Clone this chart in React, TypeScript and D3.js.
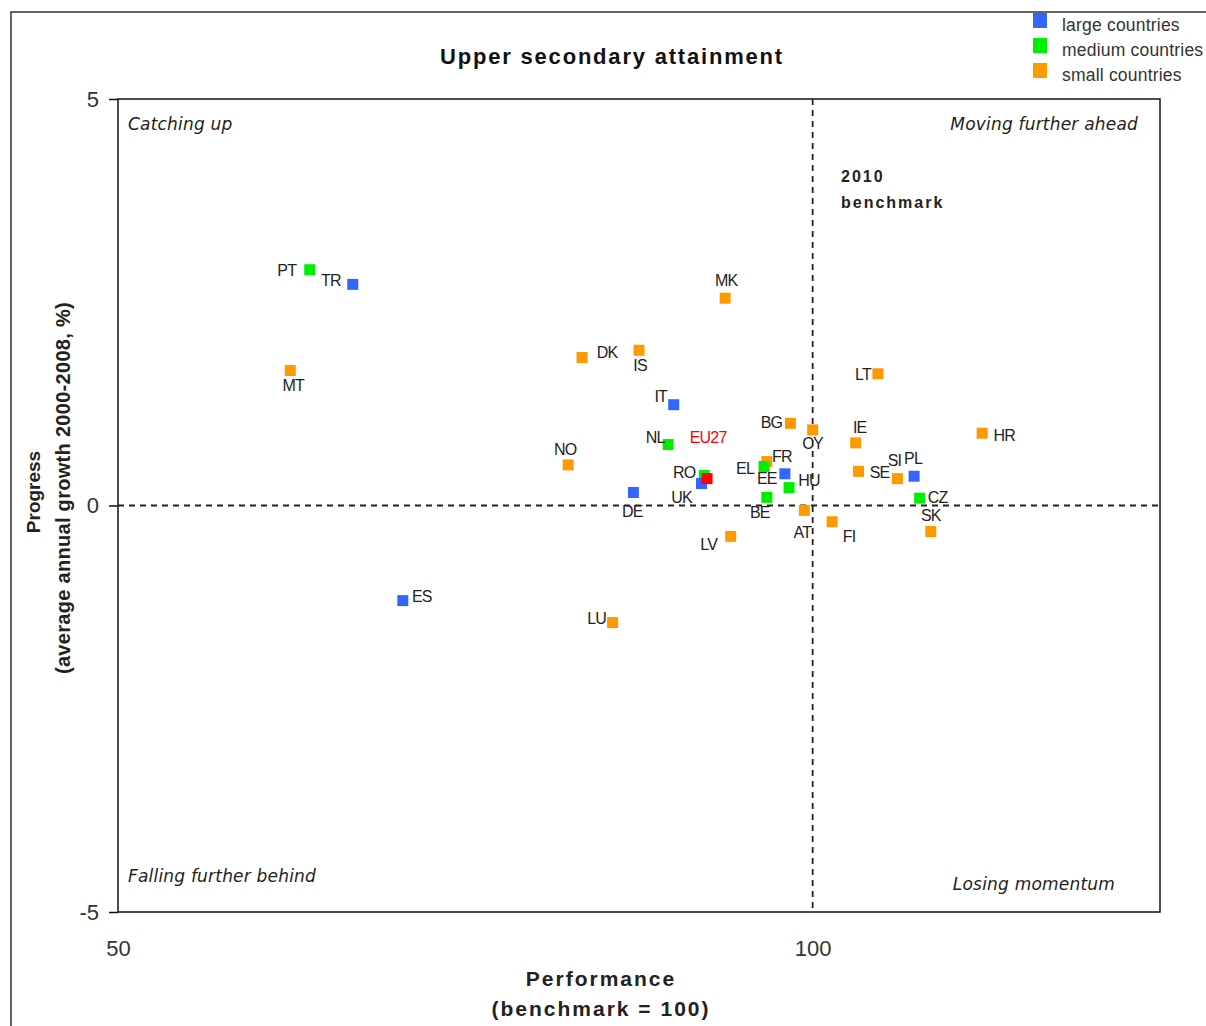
import React, { useEffect, useRef } from "react";
import * as d3 from "d3";

// country codes, group (L = large, M = medium, S = small, EU = EU average)
const countries = ["PT", "TR", "MT", "ES", "NO", "DK", "IS", "LU", "DE", "IT", "NL", "MK", "RO", "UK", "LV", "EE", "EL", "FR", "BE", "HU", "BG", "CY", "AT", "FI", "LT", "IE", "SE", "SI", "PL", "CZ", "SK", "HR", "EU27"];
const groups = ["M", "L", "S", "L", "S", "S", "S", "S", "L", "L", "M", "S", "M", "L", "S", "S", "M", "L", "M", "M", "S", "S", "S", "S", "S", "S", "S", "S", "L", "M", "S", "S", "EU"];
// performance (benchmark = 100)
const performance = [63.8, 66.9, 62.4, 70.5, 82.4, 83.4, 87.5, 85.6, 87.1, 90.0, 89.6, 93.7, 92.2, 92.0, 94.1, 96.7, 96.5, 98.0, 96.7, 98.3, 98.4, 100.0, 99.4, 101.4, 104.7, 103.1, 103.3, 106.1, 107.3, 107.7, 108.5, 112.2, 92.4];
// progress (average annual growth 2000-2008, %)
const progress = [2.9, 2.72, 1.66, -1.17, 0.5, 1.82, 1.91, -1.44, 0.16, 1.24, 0.75, 2.55, 0.37, 0.27, -0.38, 0.54, 0.48, 0.39, 0.1, 0.22, 1.01, 0.93, -0.06, -0.2, 1.62, 0.77, 0.42, 0.33, 0.36, 0.09, -0.32, 0.89, 0.33];

const xTicks = [50, 100];
const yTicks = [-5, 0, 5];
const legendLabels = ["large countries", "medium countries", "small countries"];

const colors: Record<string, string> = { L: "#3366ff", M: "#00ee00", S: "#ff9900", EU: "#ff0000" };

// label offset from marker, in px
const labelOffset: Record<string, [number, number]> = {
  PT: [-23, 1], TR: [-22, -4], MT: [3, 15], ES: [19, -4], NO: [-3, -15], DK: [25, -5],
  IS: [1, 15], LU: [-16, -4], DE: [-1, 19], IT: [-13, -8], NL: [-13, -7], MK: [1, -18],
  RO: [-20, -3], EU27: [1, -41], UK: [-20, 14], LV: [-22, 8], EE: [0, 17], EL: [-19, 2],
  FR: [-3, -17], BE: [-7, 15], HU: [20, -7], BG: [-19, -1], CY: [0, 14], AT: [-2, 22],
  FI: [17, 15], LT: [-15, 1], IE: [4, -15], SE: [21, 1], SI: [-3, -18], PL: [-1, -18],
  CZ: [18, -1], SK: [0, -16], HR: [22, 2],
};

const App: React.FC = () => {
  const svgRef = useRef<SVGSVGElement | null>(null);

  useEffect(() => {
    const width = 1206;
    const height = 1026;
    const margin = { top: 99, right: 46, bottom: 114, left: 118 };

    d3.select(svgRef.current).selectAll("*").remove();
    const svg = d3.select(svgRef.current).attr("width", width).attr("height", height);

    const x = d3.scaleLinear().domain([50, 125]).range([margin.left, width - margin.right]);
    const y = d3.scaleLinear().domain([-5, 5]).range([height - margin.bottom, margin.top]);

    // outer frame
    svg.append("rect").attr("x", 11).attr("y", 12).attr("width", 1300).attr("height", 1100)
      .attr("fill", "white").attr("stroke", "#333").attr("stroke-width", 1.5);

    // plot frame
    svg.append("rect")
      .attr("x", x(50)).attr("y", y(5))
      .attr("width", x(125) - x(50)).attr("height", y(-5) - y(5))
      .attr("fill", "none").attr("stroke", "#111").attr("stroke-width", 1.5);

    const sans = "Liberation Sans, Arial, sans-serif";

    // y axis
    const yAxis = svg.append("g").attr("transform", `translate(${x(50)},0)`)
      .call(d3.axisLeft(y).tickValues(yTicks).tickSize(9).tickPadding(10).tickFormat((d: any) => String(d)));
    yAxis.select(".domain").remove();
    yAxis.selectAll("line").attr("stroke", "#111").attr("stroke-width", 1.5);
    yAxis.selectAll("text").attr("font-family", sans).attr("font-size", 22).attr("fill", "#333");

    // x axis
    const xAxis = svg.append("g").attr("transform", `translate(0,${y(-5)})`)
      .call(d3.axisBottom(x).tickValues(xTicks).tickSize(0).tickPadding(28).tickFormat((d: any) => String(d)));
    xAxis.select(".domain").remove();
    xAxis.selectAll("text").attr("font-family", sans).attr("font-size", 22).attr("fill", "#333");

    // reference lines
    svg.append("line").attr("x1", x(50)).attr("x2", x(125)).attr("y1", y(0)).attr("y2", y(0))
      .attr("stroke", "#222").attr("stroke-width", 1.8).attr("stroke-dasharray", "6,5");
    svg.append("line").attr("x1", x(100)).attr("x2", x(100)).attr("y1", y(5)).attr("y2", y(-5))
      .attr("stroke", "#222").attr("stroke-width", 1.8).attr("stroke-dasharray", "6,5");

    // title & axis titles
    svg.append("text").attr("x", 612).attr("y", 64).attr("text-anchor", "middle")
      .attr("font-family", sans).attr("font-weight", "bold").attr("font-size", 22)
      .attr("letter-spacing", 1.8).attr("fill", "#111").text("Upper secondary attainment");
    svg.append("text").attr("x", 601).attr("y", 986).attr("text-anchor", "middle")
      .attr("font-family", sans).attr("font-weight", "bold").attr("font-size", 21)
      .attr("letter-spacing", 2).attr("fill", "#222").text("Performance");
    svg.append("text").attr("x", 601).attr("y", 1016).attr("text-anchor", "middle")
      .attr("font-family", sans).attr("font-weight", "bold").attr("font-size", 21)
      .attr("letter-spacing", 2).attr("fill", "#222").text("(benchmark = 100)");
    svg.append("text").attr("transform", "translate(40,492) rotate(-90)").attr("text-anchor", "middle")
      .attr("font-family", sans).attr("font-weight", "bold").attr("font-size", 19)
      .attr("fill", "#222").text("Progress");
    svg.append("text").attr("transform", "translate(70,488) rotate(-90)").attr("text-anchor", "middle")
      .attr("font-family", sans).attr("font-weight", "bold").attr("font-size", 20)
      .attr("letter-spacing", 0.3).attr("fill", "#222").text("(average annual growth 2000-2008, %)");

    // benchmark label
    svg.append("text").attr("x", 841).attr("y", 182).attr("font-family", sans)
      .attr("font-weight", "bold").attr("font-size", 16).attr("letter-spacing", 2)
      .attr("fill", "#222").text("2010");
    svg.append("text").attr("x", 841).attr("y", 208).attr("font-family", sans)
      .attr("font-weight", "bold").attr("font-size", 16).attr("letter-spacing", 2)
      .attr("fill", "#222").text("benchmark");

    // quadrant labels
    const hand = "'Comic Sans MS', 'DejaVu Sans', sans-serif";
    const quad = (tx: number, ty: number, anchor: string, t: string) =>
      svg.append("text").attr("x", tx).attr("y", ty).attr("text-anchor", anchor)
        .attr("font-family", hand).attr("font-style", "italic").attr("font-size", 17)
        .attr("letter-spacing", 0.2).attr("fill", "#222").text(t);
    quad(x(50) + 10, y(5) + 31, "start", "Catching up");
    quad(x(125) - 22, y(5) + 31, "end", "Moving further ahead");
    quad(x(50) + 10, y(-5) - 30, "start", "Falling further behind");
    quad(x(125) - 45, y(-5) - 22, "end", "Losing momentum");

    // points
    const idx = d3.range(countries.length);
    const s = 11;
    svg.append("g").selectAll("rect").data(idx).join("rect")
      .attr("x", (i) => x(performance[i]) - s / 2)
      .attr("y", (i) => y(progress[i]) - s / 2)
      .attr("width", s).attr("height", s)
      .attr("fill", (i) => colors[groups[i]]);

    svg.append("g").selectAll("text").data(idx).join("text")
      .attr("x", (i) => x(performance[i]) + labelOffset[countries[i]][0])
      .attr("y", (i) => y(progress[i]) + labelOffset[countries[i]][1])
      .attr("text-anchor", "middle").attr("dominant-baseline", "central")
      .attr("font-family", sans).attr("font-size", 16).attr("letter-spacing", -0.8)
      .attr("fill", (i) => (groups[i] === "EU" ? "#ff0000" : "#222"))
      .text((i) => countries[i]);

    // legend
    const legend = svg.append("g").attr("transform", "translate(1033,13)");
    legendLabels.forEach((l, i) => {
      legend.append("rect").attr("x", 0).attr("y", i * 25).attr("width", 14).attr("height", 15)
        .attr("fill", colors[["L", "M", "S"][i]]);
      legend.append("text").attr("x", 29).attr("y", i * 25 + 18).attr("font-family", sans)
        .attr("font-size", 17.5).attr("letter-spacing", 0.2).attr("fill", "#333").text(l);
    });
  }, []);

  return <svg ref={svgRef} style={{ position: "absolute", left: 0, top: 0 }}></svg>;
};

export default App;
